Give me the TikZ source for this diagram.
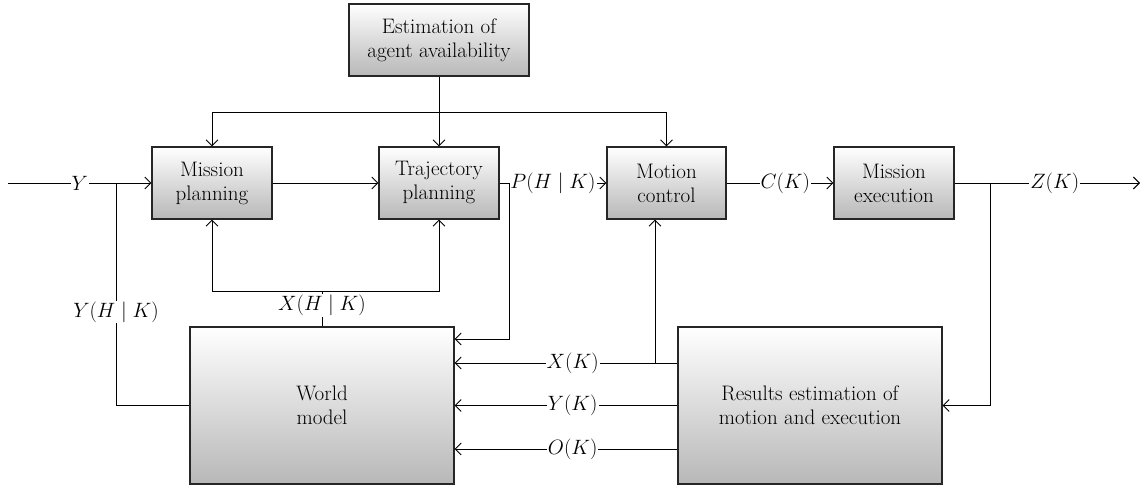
\documentclass[tikz,border=0pt]{standalone}
\usepackage{amsmath}
\usetikzlibrary{arrows.meta}

\begin{document}
\begin{tikzpicture}[
    x = 1pt,
    y = -1pt,
    >={Straight Barb[length=6pt,width=12pt]},
    line width = 0.9pt,
    font = \fontsize{21}{24}\selectfont,
    ]

    \tikzstyle{block}=[
    draw = black!85,
    line width = 1.2pt,
    top color = white,
    bottom color = black!28,
    align = center,
    minimum height = 72pt,
    inner sep = 0pt,
    ]

    \tikzstyle{lbl}=[
    fill = white,
    inner sep = 1pt,
    ]

    \useasboundingbox (0,0) rectangle (1143,486);

    \node[block, minimum width=180pt] (est) at (439,40) {Estimation of\\agent availability};
    \node[block, minimum width=120pt] (mis) at (212,183) {Mission\\planning};
    \node[block, minimum width=120pt] (tra) at (439,183) {Trajectory\\planning};
    \node[block, minimum width=119pt] (mot) at (666.5,183) {Motion\\control};
    \node[block, minimum width=120pt] (exe) at (894,183) {Mission\\execution};
    \node[block, minimum width=264pt, minimum height=157pt] (wor) at (322,405.5) {World\\model};
    \node[block, minimum width=264pt, minimum height=157pt] (res) at (810,405.5) {Results estimation of\\motion and execution};

    \coordinate (split) at (439,112);
    \coordinate (in) at (8,183);
    \coordinate (fb) at (116,183);
    \coordinate (pj) at (509,183);
    \coordinate (xj) at (322,291);
    \coordinate (zj) at (990,183);
    \coordinate (out) at (1140,183);
    \coordinate (xk) at (655,363);

    % availability to the planners and the controller
    \draw (est.south) -- (split);
    \draw[->] (split) -| (mis.north);
    \draw[->] (split) -- (tra.north);
    \draw[->] (split) -| (mot.north);

    % forward chain
    \path[->] (in) edge node[lbl] {$Y$} (mis.west);
    \path[->] (mis) edge (tra);
    \path[->] (tra) edge node[lbl] {$P(H\mid K)$} (mot);
    \path[->] (mot) edge node[lbl, pos=0.55] {$C(K)$} (exe);
    \path[->] (exe) edge node[lbl, pos=0.54] {$Z(K)$} (out);

    % feedback through the world model
    \draw (wor.west) -| node[lbl, pos=0.71] {$Y(H\mid K)$} (fb);
    \draw[->] (pj) |- (wor.east |- 0,339);
    \draw[->] (xj) -| (mis.south);
    \draw[->] (xj) -| (tra.south);
    \draw (wor.north) -- node[lbl, pos=0.6] {$X(H\mid K)$} (xj);
    \draw[->] (zj) |- (res.east);

    \path[->] (res.west |- xk) edge node[lbl, pos=0.47] {$X(K)$} (wor.east |- xk);
    \draw[->] (xk) -- (xk |- mot.south);
    \path[->] (res.west) edge node[lbl, pos=0.47] {$Y(K)$} (wor.east);
    \path[->] (res.west |- 0,449) edge node[lbl, pos=0.47] {$O(K)$} (wor.east |- 0,449);
  \end{tikzpicture}
\end{document}
